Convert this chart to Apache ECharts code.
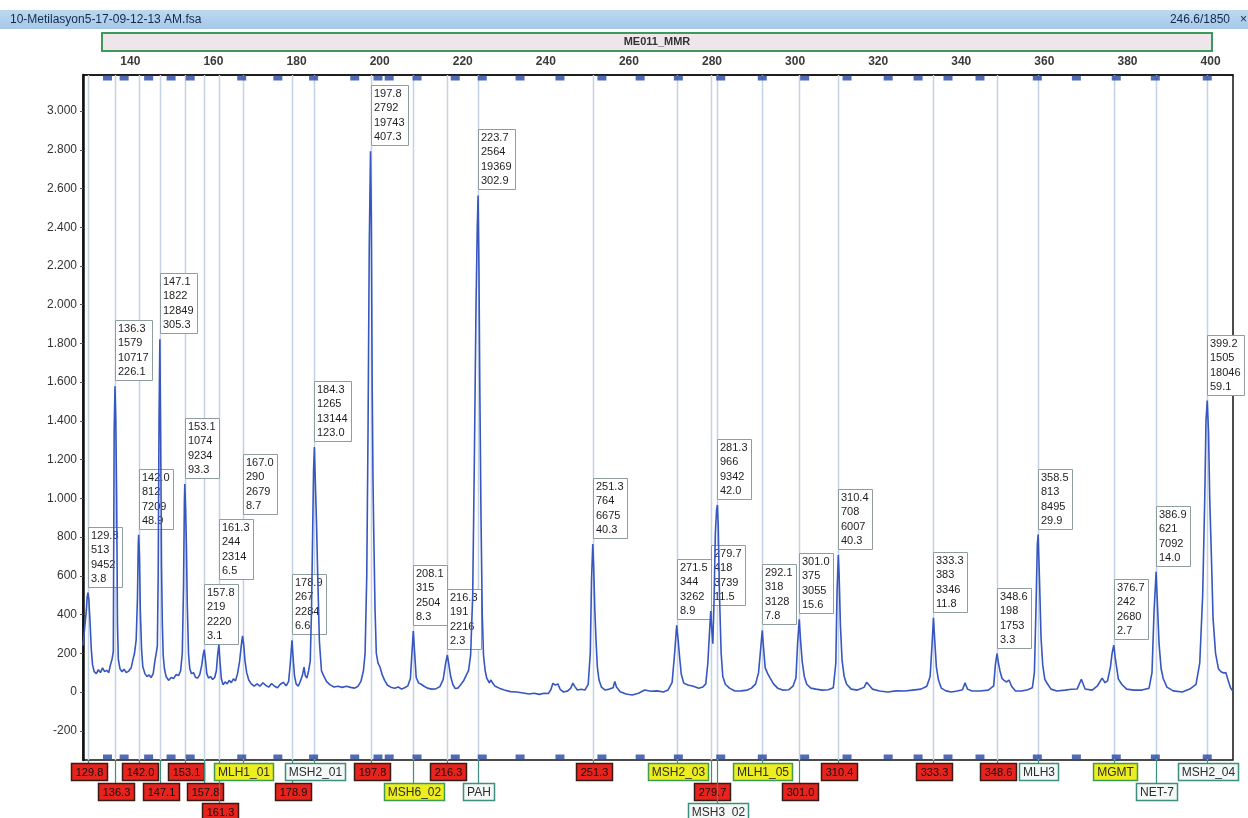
<!DOCTYPE html>
<html>
<head>
<meta charset="utf-8">
<script src="https://cdn.jsdelivr.net/npm/echarts@6/dist/echarts.min.js"></script>
<style>
  html, body { margin: 0; padding: 0; background: #fff; }
  #chart { width: 1248px; height: 818px; }
</style>
</head>
<body>
<div id="chart"></div>
<script>
// called peaks: size (bp), height (RFU), area, last value shown in the box
var peakSize   = [129.8, 136.3, 142.0, 147.1, 153.1, 157.8, 161.3, 167.0, 178.9, 184.3, 197.8, 208.1, 216.3, 223.7,
                  251.3, 271.5, 279.7, 281.3, 292.1, 301.0, 310.4, 333.3, 348.6, 358.5, 376.7, 386.9, 399.2];
var peakHeight = [513, 1579, 812, 1822, 1074, 219, 244, 290, 267, 1265, 2792, 315, 191, 2564,
                  764, 344, 418, 966, 318, 375, 708, 383, 198, 813, 242, 621, 1505];
var peakArea   = [9452, 10717, 7209, 12849, 9234, 2220, 2314, 2679, 2284, 13144, 19743, 2504, 2216, 19369,
                  6675, 3262, 3739, 9342, 3128, 3055, 6007, 3346, 1753, 8495, 2680, 7092, 18046];
var peakLast   = ['3.8', '226.1', '48.9', '305.3', '93.3', '3.1', '6.5', '8.7', '6.6', '123.0', '407.3', '8.3', '2.3', '302.9',
                  '40.3', '8.9', '11.5', '42.0', '7.8', '15.6', '40.3', '11.8', '3.3', '29.9', '2.7', '14.0', '59.1'];

// label under each peak: '' = allele label (shows the size), otherwise the probe name
var tagName = ['', '', '', '', '', '', '', 'MLH1_01', '', 'MSH2_01', '', 'MSH6_02', '', 'PAH',
               '', 'MSH2_03', '', 'MSH3_02', 'MLH1_05', '', '', '', '', 'MLH3', 'MGMT', 'NET-7', 'MSH2_04'];
var tagKind = ['a', 'a', 'a', 'a', 'a', 'a', 'a', 'y', 'a', 'w', 'a', 'y', 'a', 'w',
               'a', 'y', 'a', 'w', 'y', 'a', 'a', 'a', 'a', 'w', 'y', 'w', 'w'];
var tagRow  = [0, 1, 0, 1, 0, 1, 2, 0, 1, 0, 0, 1, 0, 1,
               0, 0, 1, 2, 0, 1, 0, 0, 0, 0, 0, 1, 0];

// bin markers along the top and bottom edges
var binSize = [134.5, 138.5, 144.4, 149.8, 154.4, 166.8, 175.5, 184.1, 194.0, 199.6, 202.3, 209.0, 218.2, 224.7,
               233.8, 243.4, 253.5, 262.7, 271.9, 282.1, 292.1, 302.3, 312.5, 322.4, 329.6, 336.8, 344.5,
               358.3, 367.7, 377.3, 386.7, 399.2];

var xTicks = [140, 160, 180, 200, 220, 240, 260, 280, 300, 320, 340, 360, 380, 400];
var yTicks = [-200, 0, 200, 400, 600, 800, 1000, 1200, 1400, 1600, 1800, 2000, 2200, 2400, 2600, 2800, 3000];

// electropherogram trace: [size, RFU]
var tracePoints = [
  [128.6,240],[129.0,330],[129.4,420],[129.6,490],[129.8,513],[130.0,480],[130.3,360],[130.6,220],[130.9,140],
  [131.3,105],[131.8,95],[132.3,115],[132.8,100],[133.3,125],[133.8,105],[134.3,112],[134.8,100],[135.2,140],
  [135.6,170],[135.9,210],[136.1,1350],[136.3,1579],[136.5,1400],[136.7,1000],[136.9,350],[137.1,170],
  [137.5,120],[138.0,105],[138.5,118],[139.0,100],[139.6,108],[140.2,125],[140.6,165],[141.0,200],[141.4,270],
  [141.7,480],[141.9,760],[142.0,812],[142.2,700],[142.4,420],[142.7,220],[143.0,130],[143.5,95],[144.0,80],
  [144.5,88],[145.0,75],[145.5,95],[145.9,160],[146.3,210],[146.5,240],[146.7,610],[146.9,1400],[147.1,1822],
  [147.3,1300],[147.5,650],[147.7,350],[147.9,190],[148.2,120],[148.6,80],[149.2,60],[149.8,75],[150.4,70],
  [151.0,90],[151.6,85],[152.1,110],[152.5,200],[152.8,550],[153.0,980],[153.1,1074],[153.3,950],[153.5,750],
  [153.7,450],[154.0,200],[154.3,120],[154.7,95],[155.2,100],[155.7,75],[156.2,72],[156.7,90],[157.2,140],
  [157.5,190],[157.8,219],[158.1,160],[158.4,95],[158.8,72],[159.3,80],[159.8,65],[160.3,75],[160.7,110],
  [161.0,190],[161.3,244],[161.6,150],[161.9,70],[162.3,38],[162.8,52],[163.3,42],[163.8,60],[164.3,48],
  [164.8,68],[165.3,58],[165.8,95],[166.3,160],[166.7,240],[167.0,290],[167.3,240],[167.6,160],[168.0,100],
  [168.5,62],[169.1,42],[169.8,30],[170.5,42],[171.2,30],[171.9,48],[172.6,34],[173.3,25],[174.0,44],
  [174.7,30],[175.4,22],[176.1,40],[176.8,50],[177.5,32],[178.1,55],[178.5,150],[178.9,267],[179.2,170],
  [179.5,85],[179.9,42],[180.4,30],[180.9,55],[181.4,85],[181.8,128],[182.1,85],[182.5,72],[182.9,110],
  [183.3,160],[183.6,420],[183.9,860],[184.1,1150],[184.3,1265],[184.5,1100],[184.8,880],[185.1,600],
  [185.5,260],[186.0,110],[186.5,85],[187.2,55],[188.0,38],[189.0,26],[190.0,30],[191.0,24],[192.0,30],
  [193.0,24],[194.0,20],[194.8,30],[195.5,55],[196.1,110],[196.5,200],[196.9,600],[197.2,1330],[197.5,2300],
  [197.8,2792],[198.0,2450],[198.2,1600],[198.4,1100],[198.6,800],[198.9,420],[199.2,200],[199.6,150],
  [200.1,128],[200.6,90],[201.2,60],[201.9,35],[202.7,25],[203.6,20],[204.5,26],[205.3,15],[206.0,22],
  [206.8,32],[207.4,70],[207.8,210],[208.1,315],[208.4,210],[208.8,75],[209.4,46],[210.0,40],[210.7,30],
  [211.5,20],[212.5,15],[213.5,16],[214.5,28],[215.3,65],[215.9,150],[216.3,191],[216.6,150],[217.1,80],
  [217.6,40],[218.2,18],[218.8,20],[219.5,38],[220.2,58],[220.8,85],[221.4,110],[221.9,190],[222.4,500],
  [222.8,1200],[223.2,2000],[223.5,2400],[223.7,2564],[223.9,2200],[224.1,1600],[224.4,900],[224.7,400],
  [225.0,190],[225.4,110],[225.8,70],[226.4,48],[226.8,62],[227.2,46],[227.8,30],[228.8,20],[230.0,10],
  [231.5,2],[233.0,0],[234.5,-5],[236.0,-10],[237.2,-6],[238.4,-12],[239.6,-6],[240.6,-8],[241.2,12],
  [241.7,45],[242.3,36],[242.9,42],[243.5,12],[244.3,0],[245.3,6],[246.0,20],[246.5,46],[247.0,28],
  [247.6,10],[248.5,14],[249.4,10],[250.2,40],[250.7,200],[251.0,580],[251.3,764],[251.5,660],[251.8,420],
  [252.1,260],[252.4,130],[252.8,62],[253.4,25],[254.3,10],[255.3,15],[256.2,22],[256.6,55],[257.0,26],
  [257.9,2],[259.3,-10],[260.8,-15],[262.3,-6],[263.8,10],[265.3,4],[266.8,6],[268.3,0],[269.4,10],
  [270.4,50],[271.0,200],[271.5,344],[271.8,280],[272.2,180],[272.6,92],[273.2,46],[274.2,36],[275.5,30],
  [276.8,20],[277.8,26],[278.5,42],[279.0,150],[279.4,310],[279.7,418],[279.95,320],[280.2,250],[280.5,480],
  [280.8,820],[281.1,940],[281.3,966],[281.5,860],[281.8,500],[282.2,200],[282.6,80],[283.2,40],[284.2,20],
  [285.5,5],[287.0,6],[288.5,10],[289.5,20],[290.5,42],[291.2,100],[291.7,220],[292.1,318],[292.4,230],
  [292.8,125],[293.4,95],[294.0,72],[294.8,42],[295.8,20],[297.0,10],[298.5,12],[299.5,30],[300.2,72],
  [300.6,250],[301.0,375],[301.3,270],[301.7,160],[302.2,82],[302.8,40],[303.8,20],[305.0,15],[306.5,10],
  [308.0,12],[309.2,22],[309.8,150],[310.1,520],[310.4,708],[310.6,600],[310.9,350],[311.3,165],[311.8,82],
  [312.4,40],[313.5,15],[315.0,10],[316.6,24],[317.2,50],[317.8,36],[318.6,15],[320.3,5],[322.3,0],
  [324.3,6],[326.3,5],[328.3,10],[330.3,15],[331.7,30],[332.5,80],[333.0,260],[333.3,383],[333.6,270],
  [334.0,130],[334.5,62],[335.2,20],[336.3,6],[337.6,0],[339.0,5],[340.3,12],[340.9,48],[341.5,15],
  [342.6,5],[344.5,5],[346.5,10],[347.8,32],[348.2,140],[348.6,198],[348.9,155],[349.3,110],[349.8,70],
  [350.3,60],[350.9,52],[351.5,62],[352.1,30],[353.0,6],[354.5,5],[356.0,12],[357.1,22],[357.6,100],
  [358.0,450],[358.3,760],[358.5,813],[358.8,600],[359.2,280],[359.6,140],[360.1,66],[360.8,40],[361.6,15],
  [363.0,5],[365.0,10],[366.5,14],[367.9,16],[368.9,66],[369.8,16],[371.5,10],[372.7,30],[373.9,72],
  [374.6,48],[375.2,58],[375.9,130],[376.3,200],[376.7,242],[377.0,185],[377.3,140],[377.8,68],[378.6,40],
  [379.8,15],[381.5,10],[383.5,10],[385.2,20],[385.9,100],[386.4,420],[386.9,621],[387.2,460],[387.6,250],
  [388.1,120],[388.6,70],[389.5,25],[391.0,6],[393.2,0],[395.0,15],[396.5,40],[397.4,150],[398.1,500],
  [398.6,1000],[398.9,1400],[399.2,1505],[399.5,1350],[399.8,1000],[400.2,700],[400.6,380],[401.2,200],
  [401.9,120],[402.5,105],[403.2,98],[403.7,100],[404.2,62],[404.8,22],[405.4,4]
];

var X_MIN = 128.6, X_MAX = 405.4, Y_MIN = -351, Y_MAX = 3186;
var FONT = '"Liberation Sans", Arial, sans-serif';

var measureCtx = document.createElement('canvas').getContext('2d');
function textWidth(s, font) {
    measureCtx.font = font;
    return measureCtx.measureText(s).width;
}
function dotThousands(v) {
    return String(v).replace(/\B(?=(\d{3})+(?!\d))/g, '.');
}

var chart = echarts.init(document.getElementById('chart'), null, { renderer: 'canvas' });

// peak info boxes: sit on top of the peak, pushed up when they hit an earlier box
var placedBoxes = [];
function renderPeakBox(params, api) {
    if (params.dataIndex === 0) placedBoxes = [];
    var i = api.value(2);
    var p = api.coord([api.value(0), api.value(1)]);
    var font = '11px ' + FONT;
    var lines = [peakSize[i].toFixed(1), String(peakHeight[i]), String(peakArea[i]), peakLast[i]];
    var w = 0;
    lines.forEach(function (s) { w = Math.max(w, textWidth(s, font)); });
    w = Math.round(w) + 6;
    var h = 60;
    var box = { x: Math.round(p[0]), y: Math.round(p[1]) - 6 - h, w: w, h: h };
    var moved = true;
    while (moved) {
        moved = false;
        for (var k = 0; k < placedBoxes.length; k++) {
            var b = placedBoxes[k];
            if (box.x < b.x + b.w && b.x < box.x + box.w && box.y < b.y + b.h && b.y < box.y + box.h) {
                box.y = b.y - 5 - h;
                moved = true;
            }
        }
    }
    placedBoxes.push(box);
    return {
        type: 'group',
        children: [
            { type: 'rect', shape: { x: box.x + 0.5, y: box.y + 0.5, width: box.w, height: box.h },
              style: { fill: '#ffffff', stroke: '#8e9e9e', lineWidth: 1 } },
            { type: 'text', x: box.x + 3, y: box.y + 2,
              style: { text: lines.join('\n'), font: font, lineHeight: 14.2, fill: '#1e1e1e' } }
        ]
    };
}

// peak lines and the labels below the axis
function renderTag(params, api) {
    var i = api.value(1);
    var top = api.coord([api.value(0), Y_MAX]);
    var bot = api.coord([api.value(0), Y_MIN]);
    var x = Math.round(top[0]) + 0.5;
    var boxTop = bot[1] + 3 + tagRow[i] * 20;
    var kind = tagKind[i];
    var text = kind === 'a' ? peakSize[i].toFixed(1) : tagName[i];
    var font = (kind === 'a' ? '11px ' : '12px ') + FONT;
    var w = kind === 'a' ? 36 : Math.round(textWidth(text, font)) + 7;
    var fill = kind === 'a' ? '#e6231d' : (kind === 'y' ? '#eded22' : '#f4f8f6');
    var stroke = kind === 'a' ? '#3a1a14' : (kind === 'y' ? '#3f9b4e' : '#3e8e7e');
    var bx = Math.round(x - w / 2);
    return {
        type: 'group',
        children: [
            { type: 'line', shape: { x1: x, y1: top[1], x2: x, y2: bot[1] },
              style: { stroke: '#c4d2e4', lineWidth: 1.5 } },
            { type: 'line', shape: { x1: x, y1: bot[1], x2: x, y2: boxTop },
              style: { stroke: '#3e8e7e', lineWidth: 1.2 } },
            { type: 'rect', shape: { x: bx + 0.5, y: boxTop + 0.5, width: w, height: 17 },
              style: { fill: fill, stroke: stroke, lineWidth: 1.5 } },
            { type: 'text', x: bx + w / 2 + 0.5, y: boxTop + 9.5,
              style: { text: text, font: font, fill: kind === 'a' ? '#111' : '#2c2c2c',
                       align: 'center', verticalAlign: 'middle' } }
        ]
    };
}

var option = {
    animation: false,
    backgroundColor: '#ffffff',
    grid: { left: 83, right: 15, top: 75, bottom: 58, show: true, borderColor: '#111', borderWidth: 1.5 },
    xAxis: {
        type: 'value', position: 'top', min: X_MIN, max: X_MAX,
        axisLine: { show: true, onZero: false, lineStyle: { color: '#111', width: 1.5 } },
        axisTick: { show: false },
        splitLine: { show: false },
        axisLabel: { customValues: xTicks, margin: 7, fontSize: 12, fontWeight: 'bold',
                     fontFamily: FONT, color: '#3a3a3a' }
    },
    yAxis: {
        type: 'value', min: Y_MIN, max: Y_MAX,
        axisLine: { show: true, onZero: false, lineStyle: { color: '#111', width: 2.5 } },
        axisTick: { show: true, customValues: yTicks, length: 3, lineStyle: { color: '#555' } },
        splitLine: { show: false },
        axisLabel: { customValues: yTicks, margin: 6, fontSize: 12, fontFamily: FONT, color: '#333',
                     formatter: dotThousands }
    },
    graphic: [
        { type: 'rect', shape: { x: 0, y: 10, width: 1248, height: 19 },
          style: { fill: new echarts.graphic.LinearGradient(0, 0, 0, 1,
                   [{ offset: 0, color: '#bcd8ef' }, { offset: 1, color: '#a6c9e8' }]) } },
        { type: 'text', x: 10, y: 20,
          style: { text: '10-Metilasyon5-17-09-12-13 AM.fsa', font: '12px ' + FONT, fill: '#14284a',
                   verticalAlign: 'middle' } },
        { type: 'text', x: 1230, y: 20,
          style: { text: '246.6/1850', font: '12px ' + FONT, fill: '#14284a', align: 'right',
                   verticalAlign: 'middle' } },
        { type: 'text', x: 1240, y: 20,
          style: { text: '×', font: '12px ' + FONT, fill: '#14284a', verticalAlign: 'middle' } },
        { type: 'rect', shape: { x: 102, y: 33, width: 1110, height: 18 },
          style: { fill: '#efe6ec', stroke: '#3b9a5b', lineWidth: 2 } },
        { type: 'text', x: 657, y: 42,
          style: { text: 'ME011_MMR', font: 'bold 11px ' + FONT, fill: '#333', align: 'center',
                   verticalAlign: 'middle' } }
    ],
    series: [
        {
            type: 'custom', name: 'tags', z: 1, clip: false,
            data: peakSize.map(function (s, i) { return [s, i]; }),
            renderItem: renderTag
        },
        {
            type: 'custom', name: 'peak boxes', z: 2, clip: false,
            data: peakSize.map(function (s, i) { return [s, peakHeight[i], i]; }),
            renderItem: renderPeakBox
        },
        {
            type: 'line', name: 'trace', z: 3, showSymbol: false,
            data: tracePoints,
            lineStyle: { color: '#3656c0', width: 1.6 }
        },
        {
            type: 'scatter', name: 'bins top', z: 4, symbol: 'rect', symbolSize: [9, 5], symbolOffset: [0, 3],
            data: binSize.map(function (s) { return [s, Y_MAX]; }),
            itemStyle: { color: '#2646a4' }
        },
        {
            type: 'scatter', name: 'bins bottom', z: 4, symbol: 'rect', symbolSize: [9, 5], symbolOffset: [0, -3],
            data: binSize.map(function (s) { return [s, Y_MIN]; }),
            itemStyle: { color: '#2646a4' }
        }
    ]
};
chart.setOption(option);
</script>
</body>
</html>
